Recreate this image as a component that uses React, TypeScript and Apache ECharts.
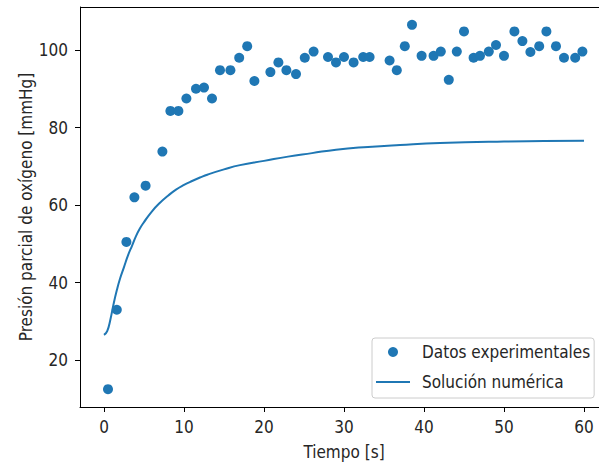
import React, { useEffect, useRef } from "react";
import * as echarts from "echarts";

const expTime = [0.5, 1.6, 2.8, 3.8, 5.2, 7.3, 8.3, 9.3, 10.3, 11.5, 12.5, 13.5, 14.5, 15.8, 16.9, 17.9, 18.8, 20.8, 21.8, 22.8, 24, 25.1, 26.2, 28, 29, 30, 31.2, 32.4, 33.2, 35.7, 36.6, 37.6, 38.5, 39.7, 41.2, 42.1, 43.1, 44.1, 45, 46.2, 47, 48.1, 49, 50, 51.3, 52.3, 53.3, 54.4, 55.3, 56.5, 57.5, 58.9, 59.8];
const expPressure = [12.5, 33, 50.5, 62, 65, 73.8, 84.3, 84.3, 87.5, 90, 90.3, 87.5, 94.8, 94.8, 98, 101, 92, 94.3, 96.8, 94.8, 93.8, 98, 99.6, 98.2, 96.8, 98.2, 96.8, 98.2, 98.2, 97.3, 94.8, 101, 106.5, 98.5, 98.5, 99.6, 92.3, 99.6, 104.8, 98, 98.5, 99.6, 101.3, 98.5, 104.8, 102.3, 99.5, 101, 104.8, 101, 98, 98, 99.6];

const numTime = [0, 0.4, 0.8, 1.2, 1.6, 2, 2.5, 3, 3.5, 4, 4.5, 5, 6, 7, 8, 9, 10, 11, 12, 13, 15, 17, 20, 23, 26, 29, 33, 37, 42, 50, 55, 60];
const numPressure = [26.5, 27.5, 30.5, 34.5, 38, 41, 44, 47, 49.5, 52, 54, 55.6, 58.4, 60.6, 62.4, 64, 65.2, 66.2, 67.1, 67.9, 69.2, 70.3, 71.4, 72.5, 73.4, 74.3, 75, 75.5, 76, 76.4, 76.5, 76.6];

const xTicks = [0, 10, 20, 30, 40, 50, 60];
const yTicks = [20, 40, 60, 80, 100];

const FONT = "'DejaVu Sans Condensed', 'DejaVu Sans', sans-serif";
const FS = 17;
const TXT = "#262626";
const BLUE = "#1f77b4";

export default function App() {
  const ref = useRef<HTMLDivElement>(null);
  useEffect(() => {
    if (!ref.current) return;
    const chart = echarts.init(ref.current, undefined, { renderer: "svg" });
    chart.setOption({
      animation: false,
      backgroundColor: "#ffffff",
      grid: {
        left: 80,
        right: -9,
        top: 7,
        bottom: 62,
        outerBoundsMode: "none",
      },
      graphic: {
        elements: [
          {
            type: "line",
            shape: { x1: 80, y1: 7.5, x2: 599, y2: 7.5 },
            style: { stroke: "#000", lineWidth: 1.2 },
            z: 100,
          },
        ],
      },
      xAxis: {
        type: "value",
        min: -3,
        max: 63,
        name: "Tiempo [s]",
        nameLocation: "middle",
        nameGap: 36,
        nameTextStyle: { fontFamily: FONT, fontSize: FS, color: TXT },
        splitLine: { show: false },
        axisLine: { show: true, onZero: false, lineStyle: { color: "#000", width: 1 } },
        axisTick: { show: true, length: 5, lineStyle: { color: "#000" }, customValues: xTicks },
        axisLabel: { fontFamily: FONT, fontSize: FS, color: TXT, margin: 11, customValues: xTicks },
      },
      yAxis: {
        type: "value",
        min: 7.9,
        max: 111.1,
        name: "Presión parcial de oxígeno [mmHg]",
        nameLocation: "middle",
        nameGap: 46,
        nameMoveOverlap: false,
        nameTextStyle: { fontFamily: FONT, fontSize: FS, color: TXT },
        splitLine: { show: false },
        axisLine: { show: true, onZero: false, lineStyle: { color: "#000", width: 1 } },
        axisTick: { show: true, length: 5, lineStyle: { color: "#000" }, customValues: yTicks },
        axisLabel: { fontFamily: FONT, fontSize: FS, color: TXT, margin: 12, customValues: yTicks },
      },
      legend: {
        orient: "vertical",
        left: 372,
        top: 338,
        padding: [4, 4, 6, 4],
        itemWidth: 34,
        itemHeight: 10,
        itemGap: 10,
        backgroundColor: "rgba(255,255,255,0.8)",
        borderColor: "#cccccc",
        borderWidth: 1,
        borderRadius: 3,
        textStyle: { fontFamily: FONT, fontSize: FS, color: TXT, lineHeight: 20, padding: [0, 0, 0, 7] },
        data: [
          { name: "Datos experimentales", icon: "circle" },
          { name: "Solución numérica", icon: "path://M0,0 L34,0 L34,2 L0,2 Z" },
        ],
      },
      series: [
        {
          name: "Datos experimentales",
          type: "scatter",
          symbol: "circle",
          symbolSize: 10,
          itemStyle: { color: BLUE, opacity: 1 },
          data: expTime.map((t, i) => [t, expPressure[i]]),
          z: 3,
        },
        {
          name: "Solución numérica",
          type: "line",
          symbol: "none",
          showSymbol: false,
          smooth: true,
          lineStyle: { color: BLUE, width: 2 },
          itemStyle: { color: BLUE },
          data: numTime.map((t, i) => [t, numPressure[i]]),
          z: 2,
        },
      ],
    });
    return () => chart.dispose();
  }, []);
  return (
    <div style={{ position: "absolute", left: 0, top: 0 }}>
      <div ref={ref} style={{ width: 599, height: 469 }} />
    </div>
  );
}
